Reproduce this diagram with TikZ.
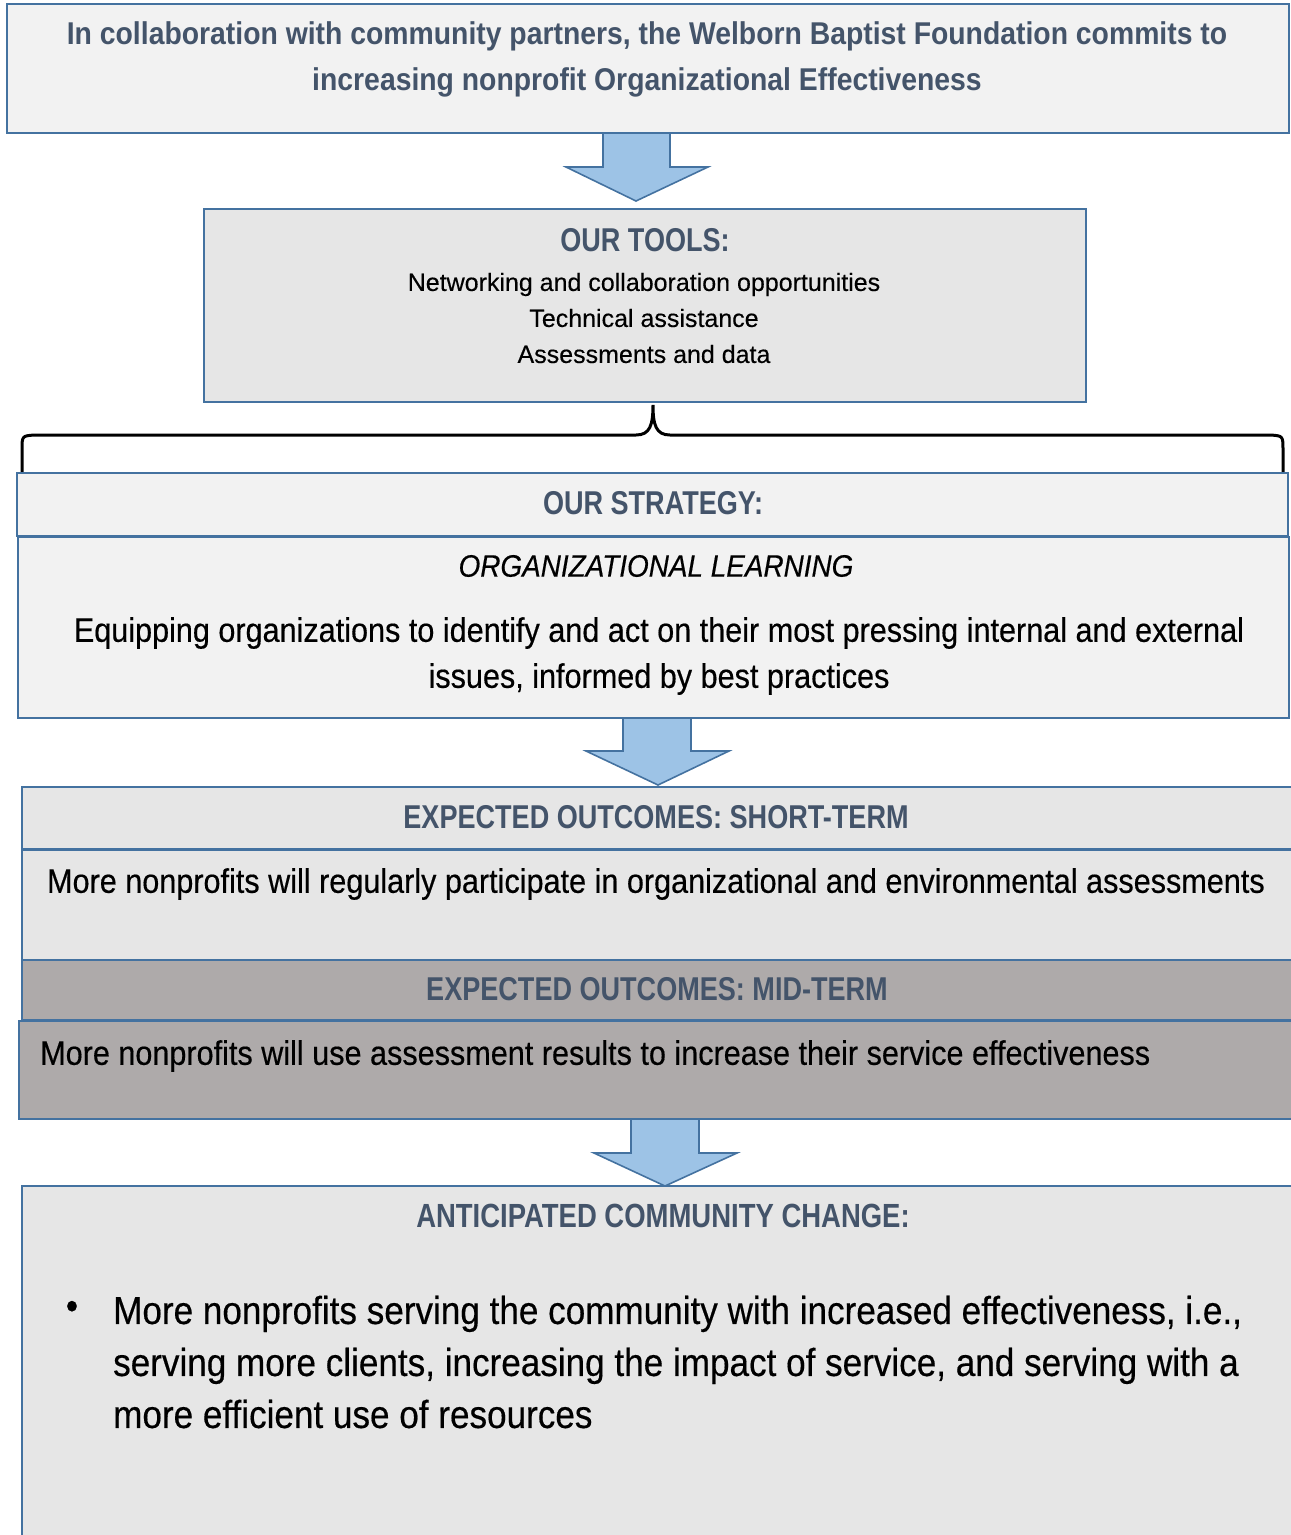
\documentclass[tikz,border=0pt]{standalone}
\usepackage{fontspec}
\setmainfont{Liberation Sans}[FakeBold=0.3]
\newfontfamily\narrowfont{Liberation Sans}[FakeStretch=0.82]
\newfontfamily\midfont{Liberation Sans}[FakeStretch=0.9]
\newfontfamily\bodyfont{Liberation Sans}[FakeStretch=0.9, FakeBold=0.4]
\usetikzlibrary{positioning}
\definecolor{slatetext}{RGB}{68, 84, 106}
\definecolor{boxline}{RGB}{68, 114, 160}
\definecolor{arrowfill}{RGB}{157, 195, 230}
\definecolor{palefill}{RGB}{242, 242, 242}
\definecolor{greyfill}{RGB}{230, 230, 230}
\definecolor{darkfill}{RGB}{174, 170, 170}
\tikzset{
  panel/.style={draw=boxline, line width=2pt},
  blockarrow/.style={draw=boxline, fill=arrowfill, line width=1.6pt, line join=miter},
  heading/.style={text=slatetext, font=\narrowfont\fontsize{33}{46}\selectfont\bfseries, inner sep=0pt},
  bodytext/.style={text=black, font=\bodyfont\fontsize{34}{46}\selectfont, inner sep=0pt},
  smalltext/.style={text=black, font=\fontsize{25}{36}\selectfont, inner sep=0pt},
}

\begin{document}
\begin{tikzpicture}[x=1pt, y=-1pt]
            \useasboundingbox (0,0) rectangle (1291,1535);
            % Block arrows
            \filldraw[blockarrow] (603,133) -- (603,167) -- (566,167) -- (636,201) -- (708,167) -- (670,167) -- (670,133) -- cycle;
            \filldraw[blockarrow] (623,718) -- (623,751) -- (586,751) -- (658,785) -- (729,751) -- (691,751) -- (691,718) -- cycle;
            \filldraw[blockarrow] (631,1119) -- (631,1153) -- (594,1153) -- (665,1186) -- (737,1153) -- (699,1153) -- (699,1119) -- cycle;
            % Commitment
            \filldraw[panel, fill=palefill] (7,4) rectangle (1289,133);
            \node[heading, font=\midfont\fontsize{31.5}{46}\selectfont\bfseries, align=center] (commit) at (647,59)
                 {In collaboration with community partners, the Welborn Baptist Foundation commits to\\
                  increasing nonprofit Organizational Effectiveness};
            % Tools
            \filldraw[panel, fill=greyfill] (204,209) rectangle (1086,402);
            \node[heading] (toolshead) at (645,240) {OUR TOOLS:};
            \node[smalltext, align=center] (toollist) at (644,318)
                 {Networking and collaboration opportunities\\
                  Technical assistance\\
                  Assessments and data};
            % Brace
            \draw[black, line width=3pt, line cap=round]
                 (22,472) -- (22,450) .. controls (22,436) .. (34,435) -- (636,435)
                 .. controls (650,435) and (653,425) .. (653,405)
                 .. controls (653,425) and (656,435) .. (670,435) -- (1271,435)
                 .. controls (1283,436) .. (1283,450) -- (1283,472);
            % Strategy
            \filldraw[panel, fill=palefill] (17,473) rectangle (1288,536);
            \node[heading] (strathead) at (653,503) {OUR STRATEGY:};
            \filldraw[panel, fill=palefill] (18,537) rectangle (1289,718);
            \node[bodytext, font=\bodyfont\fontsize{31}{46}\selectfont\itshape] (stratname) at (656,566) {ORGANIZATIONAL LEARNING};
            \node[bodytext, align=center] (stratdesc) at (659,656)
                 {Equipping organizations to identify and act on their most pressing internal and external\\
                  issues, informed by best practices};
            % Short-term outcomes
            \filldraw[panel, fill=greyfill] (22,787) rectangle (1293,849);
            \node[heading] (shorthead) at (656,817) {EXPECTED OUTCOMES: SHORT-TERM};
            \filldraw[panel, fill=greyfill] (22,850) rectangle (1293,960);
            \node[bodytext] (shorttext) at (656,884) {More nonprofits will regularly participate in organizational and environmental assessments};
            % Mid-term outcomes
            \filldraw[panel, fill=darkfill] (22,960) rectangle (1293,1020);
            \node[heading] (midhead) at (657,989) {EXPECTED OUTCOMES: MID-TERM};
            \filldraw[panel, fill=darkfill] (19,1021) rectangle (1293,1119);
            \node[bodytext, anchor=west] (midtext) at (40,1056) {More nonprofits will use assessment results to increase their service effectiveness};
            % Community change
            \filldraw[panel, fill=greyfill] (22,1186) rectangle (1293,1560);
            \node[heading, font=\narrowfont\fontsize{33.5}{46}\selectfont\bfseries] (changehead) at (663,1216) {ANTICIPATED COMMUNITY CHANGE:};
            \node[bodytext, font=\bodyfont\fontsize{39}{52}\selectfont] (bullet) at (72,1310) {\textbullet};
            \node[bodytext, font=\bodyfont\fontsize{39}{52}\selectfont, align=left, anchor=west] (changetext) at (113,1362)
                 {More nonprofits serving the community with increased effectiveness, i.e.,\\
                  serving more clients, increasing the impact of service, and serving with a\\
                  more efficient use of resources};
        \end{tikzpicture}
\end{document}
